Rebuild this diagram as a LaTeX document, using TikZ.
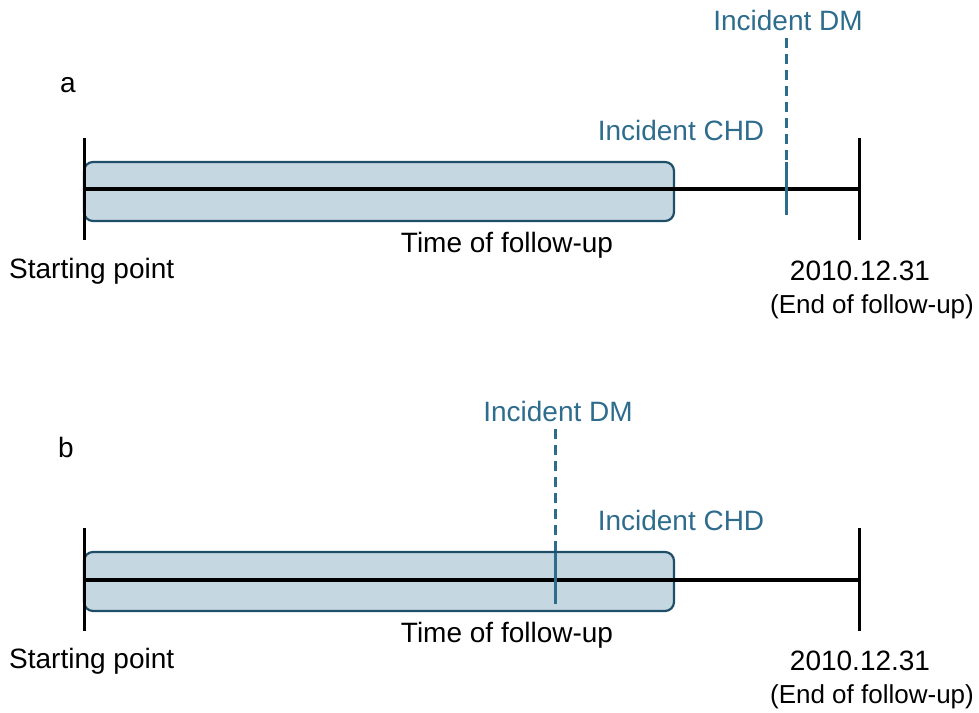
\documentclass[tikz,border=0pt]{standalone}
\usepackage{fontspec}
\setmainfont{Liberation Sans}
\begin{document}
\begin{tikzpicture}[x=1pt,y=-1pt,
  lbl/.style={inner sep=0pt,font=\fontsize{28}{30}\selectfont},
  endlbl/.style={inner sep=0pt,font=\fontsize{26}{28}\selectfont},
  tlbl/.style={lbl,text=incid},
  tick/.style={draw=black,line width=3pt},
  axis/.style={draw=black,line width=3.4pt},
  fubox/.style={draw=boxedge,fill=boxfill,line width=2.2pt,rounded corners=9pt},
  dmline/.style={draw=incid,line width=3pt},
  dmdash/.style={dmline,dash pattern=on 10pt off 6pt}]
\definecolor{boxfill}{HTML}{C5D7E1}
\definecolor{boxedge}{HTML}{1F4E68}
\definecolor{incid}{HTML}{2D6C8C}
\useasboundingbox (0,0) rectangle (979,712);
% ---------- panel a ----------
\node[lbl] (la) at (68,85) {a};
\draw[fubox] (84,162) rectangle (674,221);
\coordinate (a0) at (84,189);
\coordinate (a1) at (859,189);
\draw[axis] (a0) -- (a1);
\coordinate (at0) at (84,138); \coordinate (ab0) at (84,240);
\coordinate (at1) at (859,138); \coordinate (ab1) at (859,240);
\draw[tick] (at0) -- (ab0);
\draw[tick] (at1) -- (ab1);
\coordinate (adm0) at (786,38); \coordinate (adm1) at (786,160);
\coordinate (adm2) at (786,162); \coordinate (adm3) at (786,215);
\draw[dmdash] (adm0) -- (adm1);
\draw[dmline] (adm2) -- (adm3);
\node[tlbl] (admt) at (788,20) {Incident DM};
\node[tlbl] (acht) at (681,130) {Incident CHD};
\node[lbl] (atime) at (507,245) {Time of follow-up};
\node[lbl,anchor=west] (astart) at (9,271) {Starting point};
\node[lbl] (adate) at (860,271) {2010.12.31};
\node[endlbl] (aend) at (872,307) {(End of follow-up)};
% ---------- panel b ----------
\node[lbl] (lb) at (66,447) {b};
\draw[fubox] (84,552) rectangle (674,611);
\coordinate (b0) at (84,580);
\coordinate (b1) at (859,580);
\draw[axis] (b0) -- (b1);
\coordinate (bt0) at (84,528); \coordinate (bb0) at (84,631);
\coordinate (bt1) at (859,528); \coordinate (bb1) at (859,631);
\draw[tick] (bt0) -- (bb0);
\draw[tick] (bt1) -- (bb1);
\coordinate (bdm0) at (555,429); \coordinate (bdm1) at (555,551);
\coordinate (bdm2) at (555,553); \coordinate (bdm3) at (555,604);
\draw[dmdash] (bdm0) -- (bdm1);
\draw[dmline] (bdm2) -- (bdm3);
\node[tlbl] (bdmt) at (558,411) {Incident DM};
\node[tlbl] (bcht) at (681,520) {Incident CHD};
\node[lbl] (btime) at (507,635) {Time of follow-up};
\node[lbl,anchor=west] (bstart) at (9,661) {Starting point};
\node[lbl] (bdate) at (860,661) {2010.12.31};
\node[endlbl] (bend) at (872,697) {(End of follow-up)};
\end{tikzpicture}
\end{document}
